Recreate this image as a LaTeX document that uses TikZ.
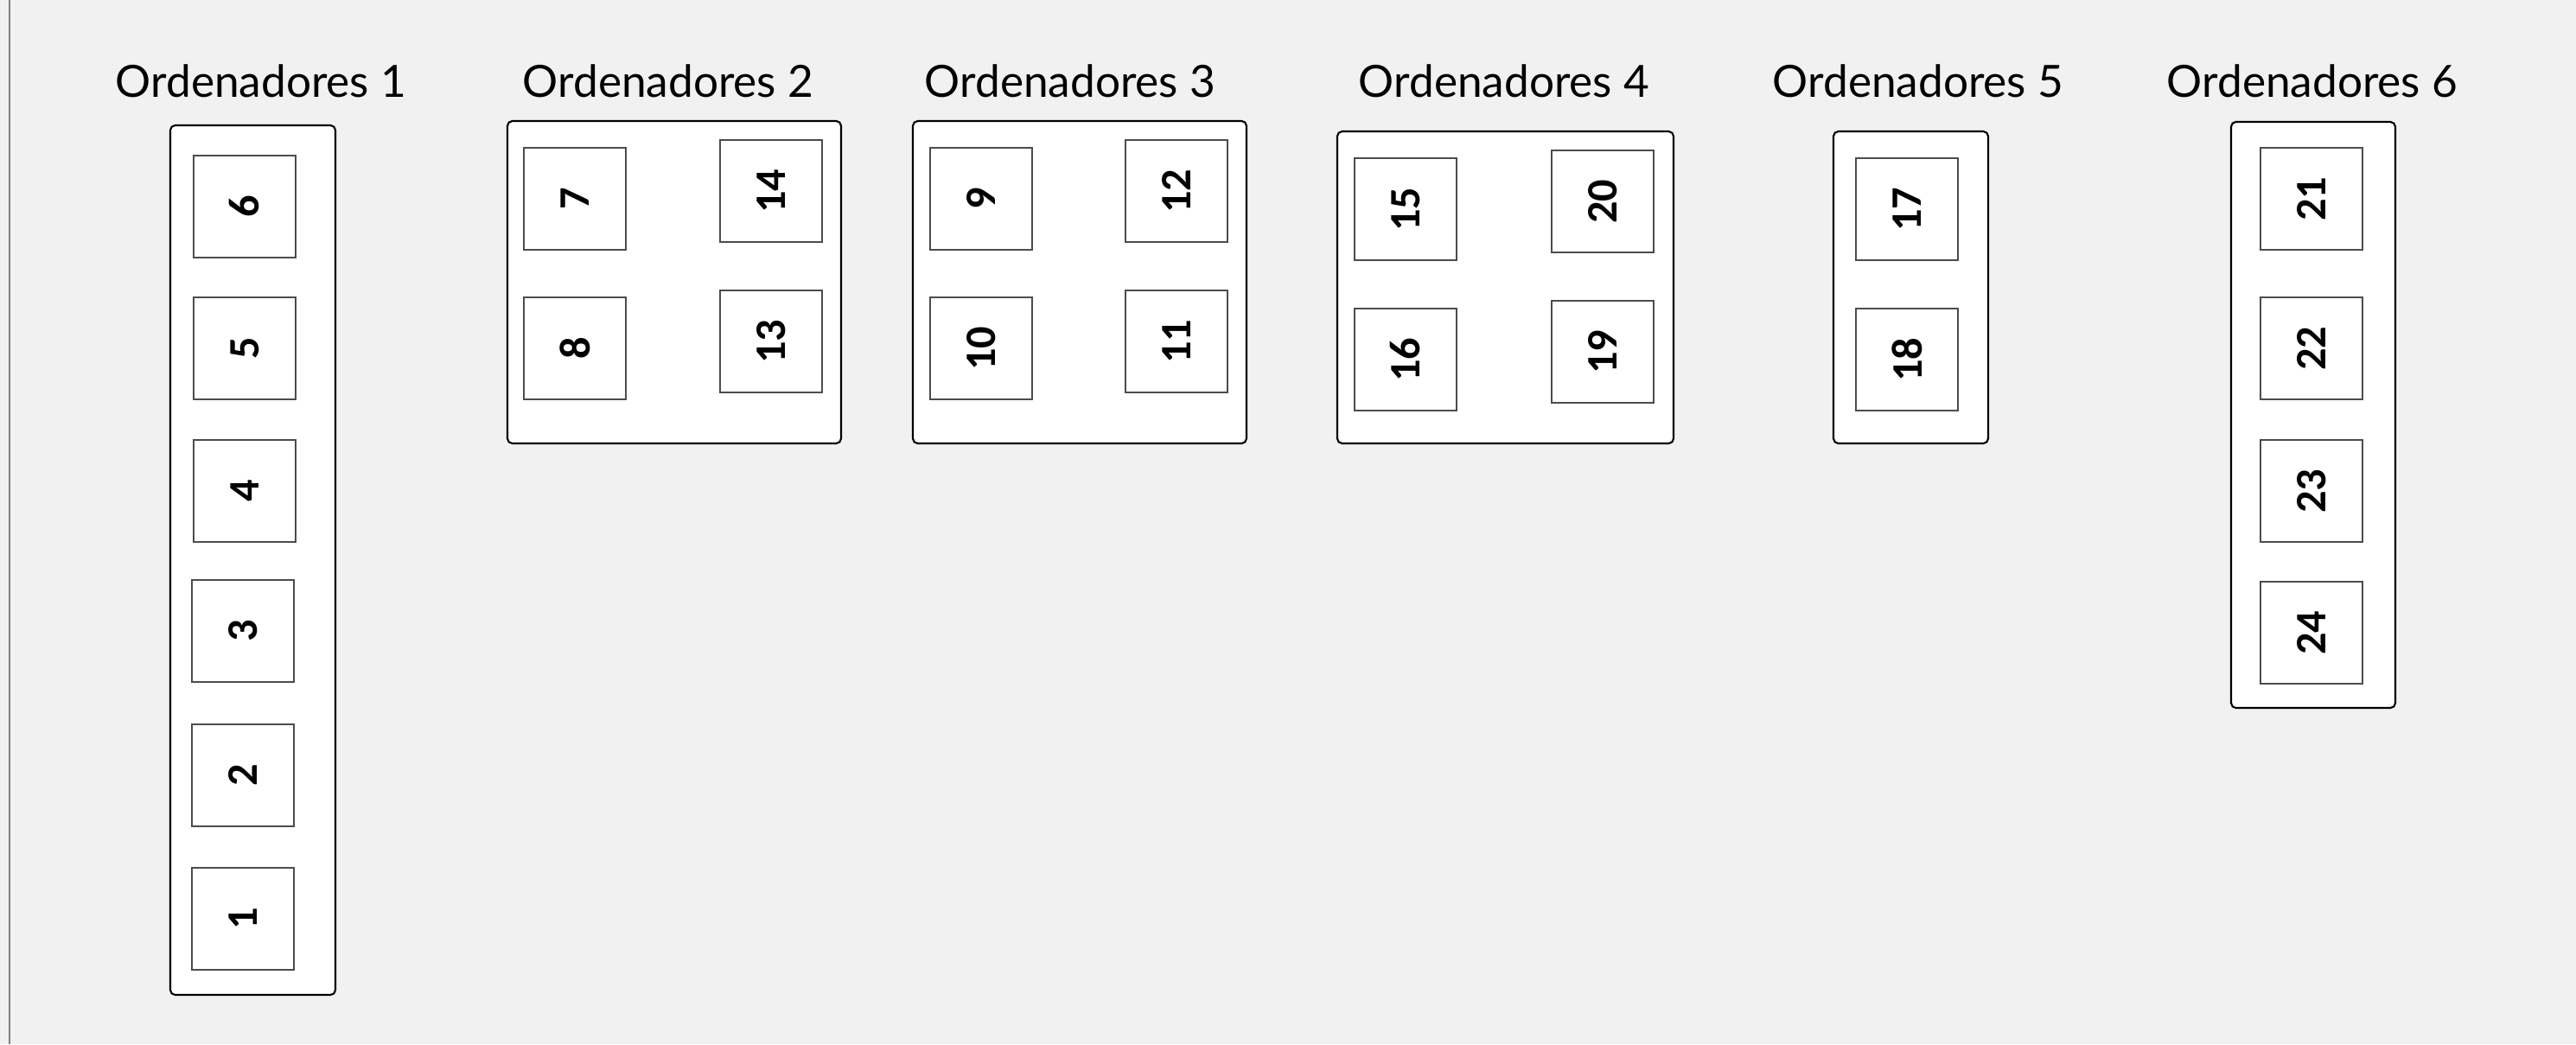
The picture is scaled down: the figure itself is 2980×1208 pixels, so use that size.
\documentclass[tikz,border=0pt]{standalone}
\usepackage{fontspec}
\setmainfont{Lato}
\newfontfamily\numfont{Carlito}
\begin{document}
\begin{tikzpicture}[x=0.01cm,y=-0.01cm,
  title/.style={anchor=base, inner sep=0pt, font=\fontsize{14.6pt}{16pt}\selectfont},
  group/.style={draw=black, line width=0.6pt, fill=white, rounded corners=1.6pt},
  cell/.style={draw=black!70, line width=0.4pt, fill=white, minimum width=1.18cm, minimum height=1.18cm, inner sep=0pt, rotate=90, font=\numfont\bfseries\fontsize{14.3pt}{15pt}\selectfont}]
\useasboundingbox (0,0) rectangle (2980,1208);
\fill[fill={rgb,255:red,241;green,241;blue,241}] (0,0) rectangle (2980,1208);
\coordinate (lt) at (11,0);
\coordinate (lb) at (11,1208);
\draw[draw={rgb,255:red,128;green,128;blue,128}, line width=0.6pt] (lt) -- (lb);

% titles
\node[title] (t1) at (302,112) {Ordenadores 1};
\node[title] (t2) at (773,112) {Ordenadores 2};
\node[title] (t3) at (1238,112) {Ordenadores 3};
\node[title] (t4) at (1740,112) {Ordenadores 4};
\node[title] (t5) at (2219,112) {Ordenadores 5};
\node[title] (t6) at (2675,112) {Ordenadores 6};

% group frames
\draw[group] (197,145) rectangle (388,1151);
\draw[group] (587,140) rectangle (973,513);
\draw[group] (1056,140) rectangle (1442,513);
\draw[group] (1547,152) rectangle (1936,513);
\draw[group] (2121,152) rectangle (2300,513);
\draw[group] (2581,141) rectangle (2771,819);

% group 1
\node[cell] (b6) at (283,239) {6};
\node[cell] (b5) at (283,403) {5};
\node[cell] (b4) at (283,568) {4};
\node[cell] (b3) at (281,730) {3};
\node[cell] (b2) at (281,897) {2};
\node[cell] (b1) at (281,1063) {1};

% group 2
\node[cell] (b7) at (665,230) {7};
\node[cell] (b8) at (665,403) {8};
\node[cell] (b14) at (892,221) {14};
\node[cell] (b13) at (892,395) {13};

% group 3
\node[cell] (b9) at (1135,230) {9};
\node[cell] (b10) at (1135,403) {10};
\node[cell] (b12) at (1361,221) {12};
\node[cell] (b11) at (1361,395) {11};

% group 4
\node[cell] (b15) at (1626,242) {15};
\node[cell] (b16) at (1626,416) {16};
\node[cell] (b20) at (1854,233) {20};
\node[cell] (b19) at (1854,407) {19};

% group 5
\node[cell] (b17) at (2206,242) {17};
\node[cell] (b18) at (2206,416) {18};

% group 6
\node[cell] (b21) at (2674,230) {21};
\node[cell] (b22) at (2674,403) {22};
\node[cell] (b23) at (2674,568) {23};
\node[cell] (b24) at (2674,732) {24};
\end{tikzpicture}
\end{document}
